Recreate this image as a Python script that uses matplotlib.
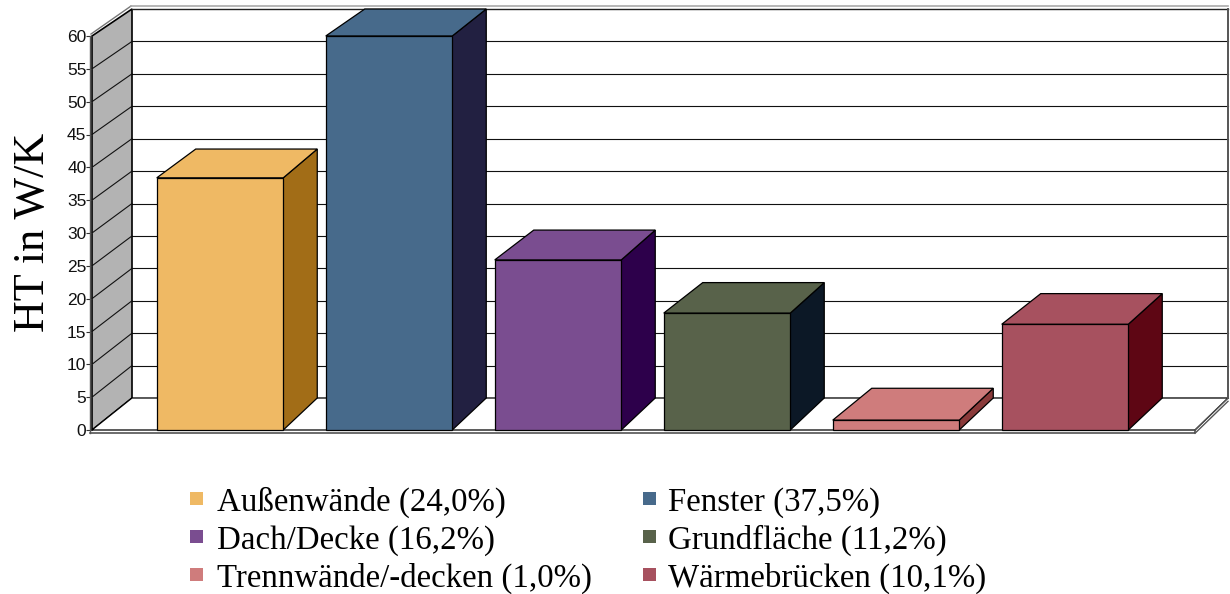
import matplotlib
matplotlib.use('Agg')
import matplotlib.pyplot as plt
from matplotlib.patches import Polygon, Rectangle

categories = ['Außenwände', 'Fenster', 'Dach/Decke', 'Grundfläche', 'Trennwände/-decken', 'Wärmebrücken']
shares = ['24,0%', '37,5%', '16,2%', '11,2%', '1,0%', '10,1%']
values = [38.4, 60.0, 25.9, 17.8, 1.5, 16.1]
front_colors = ['#EFB964', '#476A8B', '#7A4D90', '#58624A', '#CF7C7C', '#A7515F']
side_colors = ['#A26D17', '#222041', '#2D004B', '#0C1826', '#8A3A3A', '#5E0614']
y_ticks = list(range(0, 65, 5))

W, H = 1230, 594
PITCH = 169.0              # pixels between bars
FIRST_CENTER = 220.0
BAR_W = 126.5 / PITCH
DX_LEFT = 39 / PITCH       # depth of the boxes
DX_RIGHT = 34 / PITCH
PX_PER_UNIT = 394 / 60
RISE = 32 / PX_PER_UNIT
BACK_SCALE = 389 / 394
EDGE = 0.9

plt.rcParams['font.family'] = ['Liberation Sans', 'DejaVu Sans']

fig = plt.figure(figsize=(W / 100, H / 100), dpi=100)
ax = fig.add_axes([92 / W, 1 - 430 / H, (1195 - 92) / W, 394 / H])
x0 = (92 - FIRST_CENTER) / PITCH
x1 = (1195 - FIRST_CENTER) / PITCH
ax.set_xlim(x0, x1)
ax.set_ylim(0, 60)
for s in ax.spines.values():
    s.set_visible(False)
ax.patch.set_visible(False)


def back(v):
    return v * BACK_SCALE + RISE


def poly(points, color, lw=EDGE, ec='black', z=2):
    ax.add_patch(Polygon(points, closed=True, fc=color, ec=ec, lw=lw, clip_on=False,
                         joinstyle='miter', zorder=z))


wall_x = x0 + 40 / PITCH
right_x = x1 + 33 / PITCH

# left wall
poly([(x0, 0), (wall_x, back(0)), (wall_x, back(60)), (x0, 60)], '#B3B3B3', lw=1.2, z=1.2)
# outer bevel of the frame
ax.plot([x0 - 2 / PITCH, x0 - 2 / PITCH], [-0.5, 60], color='#555555', lw=1.0, clip_on=False)
ax.plot([x0 - 1 / PITCH, wall_x - 1 / PITCH], [60.3, back(60) + 0.45], color='#777777', lw=1.0, clip_on=False)
ax.plot([wall_x - 1 / PITCH, right_x], [back(60) + 0.45, back(60) + 0.45], color='#AAAAAA', lw=1.2, clip_on=False)

# back plane
ax.plot([wall_x, right_x], [back(60), back(60)], color='#222222', lw=1.0, clip_on=False)
ax.plot([right_x, right_x], [back(0), back(60)], color='#555555', lw=1.4, clip_on=False)

# grid on wall and back plane
for t in y_ticks[:-1]:
    ax.plot([wall_x, right_x], [back(t), back(t)], color='#111111', lw=0.8, clip_on=False, zorder=1)
    if t > 0:
        ax.plot([x0, wall_x], [t, back(t)], color='#111111', lw=0.8, clip_on=False, zorder=1.5)

# floor with its thin front edge
poly([(x0, 0), (wall_x, back(0)), (right_x, back(0)), (x1, 0)], 'white', lw=0.9, z=1.6)
ax.plot([x0 - 2 / PITCH, x1, x1], [-0.5, -0.5, 0], color='#444444', lw=1.1, clip_on=False, zorder=1.7)
ax.plot([x1, right_x], [-0.5, back(0) - 0.5], color='#555555', lw=1.0, clip_on=False, zorder=1.7)
ax.plot([x1, right_x], [0, back(0)], color='#555555', lw=0.9, clip_on=False, zorder=1.7)

# boxes
for i, v in enumerate(values):
    left = i - BAR_W / 2
    right = i + BAR_W / 2
    poly([(right, 0), (right + DX_RIGHT, back(0)), (right + DX_RIGHT, back(v)), (right, v)], side_colors[i])
    poly([(left, v), (left + DX_LEFT, back(v)), (right + DX_RIGHT, back(v)), (right, v)], front_colors[i])
    poly([(left, 0), (right, 0), (right, v), (left, v)], front_colors[i])

ax.set_xticks([])
ax.set_yticks(y_ticks)
ax.tick_params(axis='y', length=4, width=0.8, pad=0, labelsize=12.5, color='#333333', labelcolor='#111111')
ax.tick_params(axis='y', direction='out')

fig.text(33 / W, 1 - 232 / H, 'HT in W/K', rotation=90, ha='center', va='center',
         family='Liberation Serif', fontsize=31.8)

# legend, two columns filled row by row
col_x = [190, 643]
text_x = [217, 668]
row_y = [498, 536, 574]
for i, (name, share) in enumerate(zip(categories, shares)):
    sx = col_x[i % 2]
    sy = row_y[i // 2]
    fig.add_artist(Rectangle((sx / W, 1 - (sy + 6.5) / H), 13 / W, 13 / H, transform=fig.transFigure,
                             fc=front_colors[i], ec='none'))
    fig.text(text_x[i % 2] / W, 1 - (sy + 13) / H, f'{name} ({share})', ha='left', va='baseline',
             family='Liberation Serif', fontsize=23.7)

fig.savefig('out.png', dpi=100)
